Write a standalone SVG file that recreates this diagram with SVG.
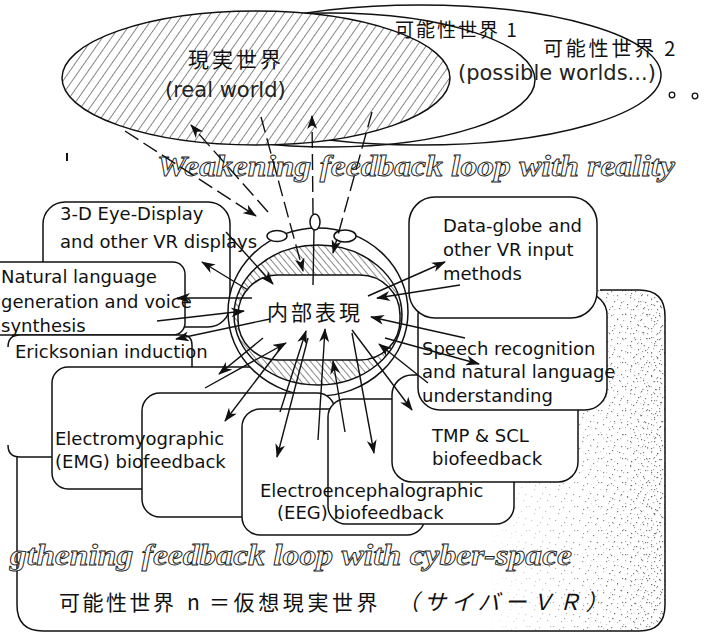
<svg xmlns="http://www.w3.org/2000/svg" width="715" height="634" viewBox="0 0 715 634">
<defs>
<style>
.box{fill:#fff;stroke:#111;stroke-width:1.5}
.ol{fill:none;stroke:#111;stroke-width:1.5}
.lbl{font-family:"DejaVu Sans","Noto Sans",sans-serif;font-size:18px;fill:#111}
.top{font-family:"DejaVu Sans","Noto Sans",sans-serif;font-size:21px;fill:#222}
.jp{font-family:"Noto Sans CJK JP","Noto Sans CJK SC",sans-serif;fill:#111}
.ital{font-family:"Liberation Serif",serif;font-style:italic;font-weight:bold;font-size:30px;fill:#fff;stroke:#222;stroke-width:0.9}
.arr{fill:none;stroke:#111;stroke-width:1.4;marker-end:url(#ah)}
.dash{stroke-dasharray:16 6}
.ln{fill:none;stroke:#111;stroke-width:1.4}
.dot{fill:#333}
</style>
<marker id="ah" viewBox="0 0 14 10" markerWidth="14" markerHeight="10" refX="13" refY="5" orient="auto" markerUnits="userSpaceOnUse">
<path d="M0,0 L14,5 L0,10 L4,5 Z" fill="#111"/>
</marker>
<pattern id="hatchReal" width="7.5" height="20" patternUnits="userSpaceOnUse" patternTransform="rotate(35)">
<line x1="0" y1="0" x2="0" y2="20" stroke="#111" stroke-width="1"/>
</pattern>
<pattern id="hatchHead" width="5" height="20" patternUnits="userSpaceOnUse" patternTransform="rotate(-40)">
<line x1="0" y1="0" x2="0" y2="20" stroke="#111" stroke-width="1"/>
</pattern>
<pattern id="dotsA" width="24" height="24" patternUnits="userSpaceOnUse">
<rect class="dot" x="1" y="2" width="1.2" height="1.2"/><rect class="dot" x="6" y="9" width="1.2" height="1.2"/>
<rect class="dot" x="11" y="3" width="1.2" height="1.2"/><rect class="dot" x="17" y="7" width="1.2" height="1.2"/>
<rect class="dot" x="21" y="14" width="1.2" height="1.2"/><rect class="dot" x="3" y="16" width="1.2" height="1.2"/>
<rect class="dot" x="9" y="21" width="1.2" height="1.2"/><rect class="dot" x="14" y="13" width="1.2" height="1.2"/>
<rect class="dot" x="19" y="20" width="1.2" height="1.2"/><rect class="dot" x="22" y="2" width="1.2" height="1.2"/>
<rect class="dot" x="7" y="5" width="1.2" height="1.2"/><rect class="dot" x="12" y="18" width="1.2" height="1.2"/>
</pattern>
<pattern id="dotsB" width="17" height="19" patternUnits="userSpaceOnUse">
<rect class="dot" x="2" y="5" width="1.2" height="1.2"/><rect class="dot" x="8" y="1" width="1.2" height="1.2"/>
<rect class="dot" x="13" y="9" width="1.2" height="1.2"/><rect class="dot" x="5" y="14" width="1.2" height="1.2"/>
<rect class="dot" x="11" y="16" width="1.2" height="1.2"/><rect class="dot" x="15" y="3" width="1.2" height="1.2"/>
<rect class="dot" x="1" y="10" width="1.2" height="1.2"/>
</pattern>
<pattern id="dotsC" width="13" height="11" patternUnits="userSpaceOnUse">
<rect class="dot" x="1" y="1" width="1.2" height="1.2"/><rect class="dot" x="6" y="4" width="1.2" height="1.2"/>
<rect class="dot" x="10" y="8" width="1.2" height="1.2"/><rect class="dot" x="3" y="7" width="1.2" height="1.2"/>
</pattern>
<linearGradient id="gA" gradientUnits="userSpaceOnUse" x1="480" y1="0" x2="620" y2="0">
<stop offset="0" stop-color="#000"/><stop offset="1" stop-color="#aaa"/>
</linearGradient>
<linearGradient id="gB" gradientUnits="userSpaceOnUse" x1="570" y1="0" x2="655" y2="0">
<stop offset="0" stop-color="#000"/><stop offset="1" stop-color="#999"/>
</linearGradient>
<linearGradient id="gC" gradientUnits="userSpaceOnUse" x1="620" y1="0" x2="662" y2="0">
<stop offset="0" stop-color="#000"/><stop offset="1" stop-color="#777"/>
</linearGradient>
<mask id="mA"><rect x="460" y="280" width="220" height="360" fill="url(#gA)"/></mask>
<mask id="mB"><rect x="460" y="280" width="220" height="360" fill="url(#gB)"/></mask>
<mask id="mC"><rect x="460" y="280" width="220" height="360" fill="url(#gC)"/></mask>
<clipPath id="bigClip"><rect x="17" y="290" width="648" height="341" rx="26"/></clipPath>
</defs>

<!-- background cyber-space box -->
<g id="cyberspace">
<rect x="17" y="290" width="648" height="341" rx="26" fill="#fff"/>
<g clip-path="url(#bigClip)">
<rect x="460" y="280" width="220" height="360" fill="url(#dotsA)" mask="url(#mA)"/>
<rect x="460" y="280" width="220" height="360" fill="url(#dotsB)" mask="url(#mB)"/>
<rect x="460" y="280" width="220" height="360" fill="url(#dotsC)" mask="url(#mC)"/>
</g>
<path class="ol" d="M17,440 V605 Q17,631 43,631 H639 Q665,631 665,605 V316 Q665,290 639,290 H600"/>
</g>

<!-- possible worlds ellipses -->
<g id="worlds">
<ellipse cx="420" cy="75" rx="241" ry="70" class="ol"/>
<ellipse cx="330" cy="80" rx="205" ry="67" class="ol"/>
<ellipse cx="256" cy="78" rx="194" ry="67" fill="#fff"/>
<ellipse cx="256" cy="78" rx="194" ry="67" fill="url(#hatchReal)" stroke="#111" stroke-width="1.5"/>
<circle cx="672" cy="95" r="2.8" fill="none" stroke="#111" stroke-width="1.3"/>
<circle cx="695" cy="96" r="2.8" fill="none" stroke="#111" stroke-width="1.3"/>
<line x1="67" y1="153" x2="67" y2="161" stroke="#111" stroke-width="2"/>
</g>

<!-- boxes -->
<g id="display3d"><rect class="box" x="43" y="202" width="187" height="125" rx="22"/></g>
<g id="natlang"><rect class="box" x="-30" y="262" width="215" height="73" rx="12"/></g>
<g id="erickson">
<rect x="8" y="335" width="184" height="122" rx="12" fill="#fff"/>
<path class="ol" d="M8,347 Q8,335 20,335 H182 Q192,335 192,345 V447 Q192,457 182,457 H20 Q8,457 8,445"/>
</g>
<g id="emg"><rect class="box" x="52" y="367" width="250" height="122" rx="16"/></g>

<g id="head">
<ellipse cx="318" cy="312" rx="90" ry="84" fill="#fff" stroke="#111" stroke-width="1.5"/>
<ellipse cx="318" cy="315" rx="84" ry="70" fill="#fff"/>
<ellipse cx="318" cy="315" rx="84" ry="70" fill="url(#hatchHead)" stroke="#111" stroke-width="1.5"/>
<rect x="238" y="275" width="162" height="85" rx="40" fill="#fff" stroke="#111" stroke-width="1.5"/>
<ellipse cx="277" cy="236" rx="10" ry="5.5" class="box"/>
<ellipse cx="315" cy="222" rx="5" ry="8" class="box"/>
<ellipse cx="345" cy="236" rx="11" ry="6" class="box"/>
</g>

<g id="box2"><rect class="box" x="142" y="393" width="193" height="124" rx="18"/></g>
<g id="eegA"><rect class="box" x="242" y="409" width="183" height="126" rx="18"/></g>
<g id="eegB"><rect class="box" x="328" y="399" width="186" height="125" rx="18"/></g>
<g id="tmp"><rect class="box" x="392" y="375" width="186" height="107" rx="20"/></g>
<g id="speech"><rect class="box" x="418" y="293" width="189" height="117" rx="22"/></g>
<g id="dataglobe"><rect class="box" x="409" y="197" width="188" height="121" rx="26"/></g>

<!-- texts -->
<g id="texts">
<text class="jp" x="188" y="67" font-size="21" letter-spacing="3" fill="#333">現実世界</text>
<text class="top" x="165" y="97">(real world)</text>
<text class="jp" x="395" y="37" font-size="19" letter-spacing="2">可能性世界 1</text>
<text class="jp" x="543" y="56" font-size="20" letter-spacing="2.8">可能性世界 2</text>
<text class="top" x="458" y="80">(possible worlds...)</text>
<text class="ital" x="157" y="176" textLength="518" lengthAdjust="spacingAndGlyphs">Weakening feedback loop with reality</text>

<text class="lbl" x="60" y="220">3-D Eye-Display</text>
<text class="lbl" x="60" y="248">and other VR displays</text>
<text class="lbl" x="1" y="283">Natural language</text>
<text class="lbl" x="1" y="308">generation and voice</text>
<text class="lbl" x="1" y="332">synthesis</text>
<text class="lbl" x="15" y="358">Ericksonian induction</text>
<text class="lbl" x="55" y="445">Electromyographic</text>
<text class="lbl" x="55" y="468">(EMG) biofeedback</text>
<text class="lbl" x="260" y="497">Electroencephalographic</text>
<text class="lbl" x="277" y="519">(EEG) biofeedback</text>
<text class="lbl" x="432" y="442">TMP &amp; SCL</text>
<text class="lbl" x="432" y="465">biofeedback</text>
<text class="lbl" x="422" y="355">Speech recognition</text>
<text class="lbl" x="422" y="378">and natural language</text>
<text class="lbl" x="422" y="402">understanding</text>
<text class="lbl" x="443" y="232">Data-globe and</text>
<text class="lbl" x="443" y="256">other VR input</text>
<text class="lbl" x="443" y="280">methods</text>

<text class="jp" x="267" y="320" font-size="21" letter-spacing="3">内部表現</text>

<text class="ital" x="10" y="565" textLength="562" lengthAdjust="spacingAndGlyphs">gthening feedback loop with cyber-space</text>
<text class="jp" y="610" font-size="21"><tspan x="59" letter-spacing="2.5">可能性世界 </tspan><tspan x="187">n </tspan><tspan x="209" letter-spacing="3.6">＝仮想現実世界</tspan></text>
<text class="jp" x="397" y="610" font-size="22" letter-spacing="5" font-style="italic">（サイバーＶＲ）</text>
</g>

<!-- connectors -->
<g id="connectors">
<line class="arr dash" x1="125" y1="131" x2="256" y2="216"/>
<line class="arr dash" x1="268" y1="212" x2="191" y2="125"/>
<line class="arr dash" x1="261" y1="117" x2="303" y2="271"/>
<line class="arr dash" x1="313" y1="214" x2="312" y2="116"/>
<line class="ln" x1="314" y1="230" x2="313" y2="285"/>
<line class="arr dash" x1="372" y1="112" x2="333" y2="253"/>

<line class="arr" x1="248" y1="290" x2="202" y2="262"/>
<line class="arr" x1="226" y1="232" x2="273" y2="284"/>
<line class="arr" x1="252" y1="298" x2="177" y2="298"/>
<line class="arr" x1="157" y1="321" x2="244" y2="311"/>
<line class="arr" x1="270" y1="319" x2="176" y2="339"/>
<line class="arr" x1="263" y1="338" x2="219" y2="374"/>
<line class="arr" x1="283" y1="345" x2="225" y2="421"/>
<line class="arr" x1="205" y1="388" x2="286" y2="343"/>
<line class="arr" x1="308" y1="338" x2="277" y2="457"/>
<line class="arr" x1="280" y1="412" x2="306" y2="331"/>
<line class="arr" x1="318" y1="440" x2="325" y2="329"/>
<line class="arr" x1="345" y1="432" x2="333" y2="361"/>
<line class="arr" x1="352" y1="333" x2="374" y2="453"/>
<line class="arr" x1="352" y1="330" x2="412" y2="410"/>
<line class="arr" x1="428" y1="383" x2="379" y2="344"/>
<line class="arr" x1="385" y1="338" x2="479" y2="364"/>
<line class="arr" x1="465" y1="338" x2="371" y2="317"/>
<line class="arr" x1="368" y1="296" x2="445" y2="262"/>
<line class="arr" x1="460" y1="285" x2="377" y2="298"/>
</g>
</svg>
